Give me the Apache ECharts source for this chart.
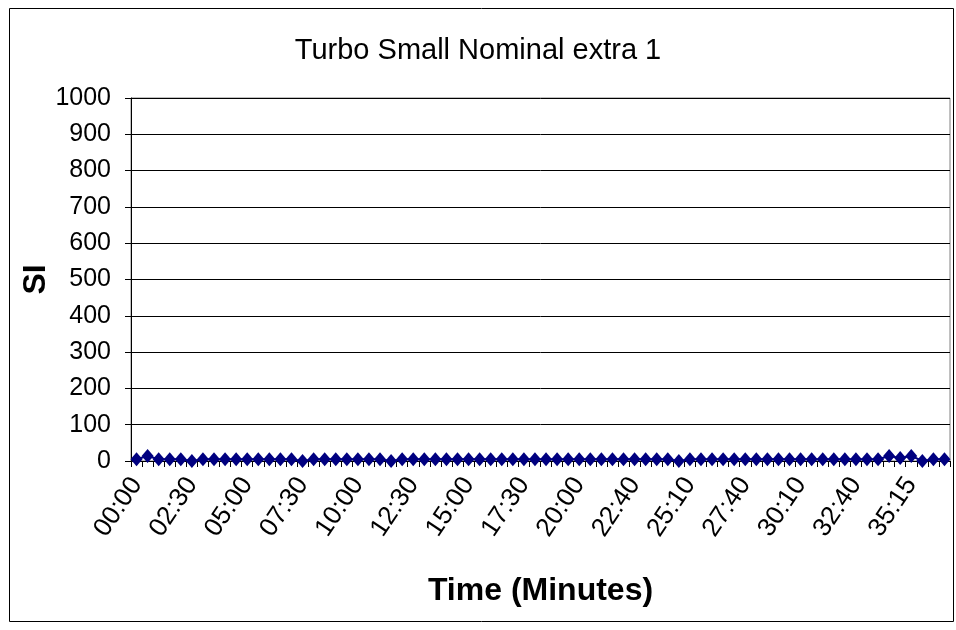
<!DOCTYPE html>
<html>
<head>
<meta charset="utf-8">
<title>Turbo Small Nominal extra 1</title>
<script src="https://cdn.jsdelivr.net/npm/echarts@6/dist/echarts.min.js"></script>
<style>
  html, body { margin: 0; padding: 0; background: #ffffff; }
  #chart { width: 956px; height: 630px; }
</style>
</head>
<body>
<div id="chart"></div>
<script>
// Sample times (mm:ss) for each reading
var times = [
  '00:00','00:30','01:00','01:30','02:00','02:30','03:00','03:30','04:00','04:30',
  '05:00','05:30','06:00','06:30','07:00','07:30','08:00','08:30','09:00','09:30',
  '10:00','10:30','11:00','11:30','12:00','12:30','13:00','13:30','14:00','14:30',
  '15:00','15:30','16:00','16:30','17:00','17:30','18:00','18:30','19:00','19:30',
  '20:00','20:30','21:00','21:30','22:10','22:40','23:10','23:40','24:10','24:40',
  '25:10','25:40','26:10','26:40','27:10','27:40','28:10','28:40','29:10','29:40',
  '30:10','30:40','31:10','31:40','32:10','32:40','33:10','33:40','34:10','34:45',
  '35:15','35:45','36:15','36:45'
];

// SI readings
var siValues = [
  5, 14, 5, 5, 5, 0, 5, 5, 5, 5,
  5, 5, 5, 5, 5, 0, 5, 5, 5, 5,
  5, 5, 5, 0, 5, 5, 5, 5, 5, 5,
  5, 5, 5, 5, 5, 5, 5, 5, 5, 5,
  5, 5, 5, 5, 5, 5, 5, 5, 5, 0,
  5, 5, 5, 5, 5, 5, 5, 5, 5, 5,
  5, 5, 5, 5, 5, 5, 5, 5, 14, 8,
  14, 0, 5, 5
];

var SANS = '"Liberation Sans", Arial, sans-serif';

var chart = echarts.init(document.getElementById('chart'), null, { renderer: 'canvas' });

chart.setOption({
  backgroundColor: '#ffffff',
  animation: false,
  title: {
    text: 'Turbo Small Nominal extra 1',
    left: 'center',
    top: 31,
    textStyle: { fontFamily: SANS, fontSize: 29, fontWeight: 'normal', color: '#000000' }
  },
  graphic: [{
    type: 'rect',
    shape: { x: 9.5, y: 8.5, width: 944, height: 613 },
    style: { fill: 'none', stroke: '#000000', lineWidth: 1 },
    silent: true
  }],
  grid: {
    left: 131, right: 6, top: 98, bottom: 169,
    outerBoundsMode: 'none',
    containLabel: false,
    show: true, borderColor: '#808080', borderWidth: 1
  },
  xAxis: {
    type: 'category',
    data: times,
    boundaryGap: true,
    name: 'Time (Minutes)',
    nameLocation: 'middle',
    nameGap: 114,
    nameMoveOverlap: false,
    nameTextStyle: { fontFamily: SANS, fontSize: 32, fontWeight: 'bold', color: '#000000', verticalAlign: 'top' },
    axisLine: { show: true, lineStyle: { color: '#000000', width: 1 } },
    axisTick: { show: true, interval: 0, length: 6, inside: false, lineStyle: { color: '#000000' } },
    axisLabel: {
      interval: 4, rotate: 56, margin: 19,
      fontFamily: SANS, fontSize: 26, color: '#000000'
    },
    splitLine: { show: false }
  },
  yAxis: {
    type: 'value',
    min: 0, max: 1000, interval: 100,
    name: 'SI',
    nameLocation: 'middle',
    nameGap: 79,
    nameMoveOverlap: false,
    nameTextStyle: { fontFamily: SANS, fontSize: 32, fontWeight: 'bold', color: '#000000' },
    axisLine: { show: true, lineStyle: { color: '#000000', width: 1 } },
    axisTick: { show: true, length: 6, lineStyle: { color: '#000000' } },
    axisLabel: {
      margin: 20, fontFamily: SANS, fontSize: 25, color: '#000000',
      formatter: function (v) { return String(v); }
    },
    splitLine: { show: true, lineStyle: { color: '#000000', width: 1 } }
  },
  series: [{
    type: 'line',
    data: siValues,
    symbol: 'diamond',
    symbolSize: [12, 14],
    showAllSymbol: true,
    itemStyle: { color: '#000080' },
    lineStyle: { color: '#000080', width: 2 }
  }]
});
</script>
</body>
</html>
